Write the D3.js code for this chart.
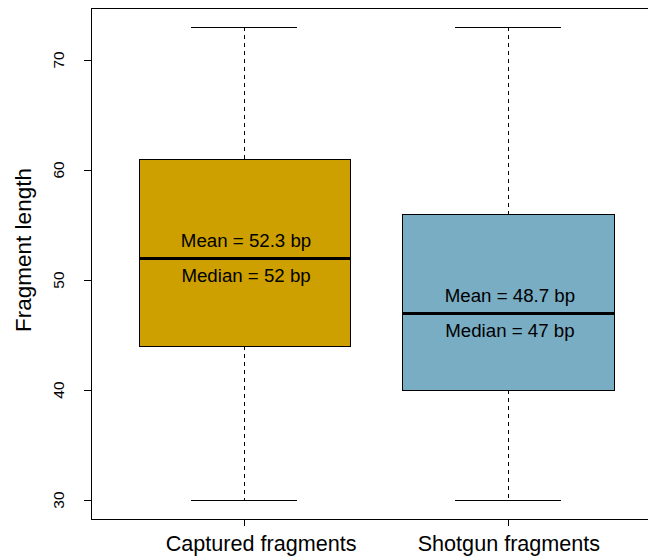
<!DOCTYPE html>
<html>
<head>
<meta charset="utf-8">
<script src="https://cdn.jsdelivr.net/npm/d3@7"></script>
<style>
  html, body { margin: 0; padding: 0; background: #fff; }
  svg { display: block; font-family: "Liberation Sans", Arial, Helvetica, sans-serif; }
</style>
</head>
<body>
<svg id="chart" width="648" height="560"></svg>
<script>
// Fragment length summary per library type
const categories = ["Captured fragments", "Shotgun fragments"];
const whiskerLow  = [30, 30];
const q1          = [44, 40];
const medians     = [52, 47];
const q3          = [61, 56];
const whiskerHigh = [73, 73];
const means       = [52.3, 48.7];
const fills       = ["#CDA000", "#79ADC4"];
const yTicks      = [30, 40, 50, 60, 70];
const yLabel      = "Fragment length";

(function drawChart() {
  const svg = d3.select("#chart");

  // Plot region (frame runs past the right edge of the canvas)
  const plotLeft = 91, plotRight = 661, plotTop = 8, plotBottom = 519;

  // Boxplot-style axis ranges: groups at 1..n with 4% padding on both axes
  const xLo = 0.5, xHi = categories.length + 0.5;
  const xPad = (xHi - xLo) * 0.04;
  const x = d3.scaleLinear().domain([xLo - xPad, xHi + xPad]).range([plotLeft, plotRight]);

  const yMin = d3.min(whiskerLow), yMax = d3.max(whiskerHigh);
  const yPad = (yMax - yMin) * 0.04;
  const y = d3.scaleLinear().domain([yMin - yPad, yMax + yPad]).range([plotBottom, plotTop]);

  const px = v => Math.round(v) + 0.5;
  const boxHalf = 0.4, capHalf = 0.2;

  const data = categories.map((c, i) => ({
    cat: c, pos: i + 1, lo: whiskerLow[i], q1: q1[i], med: medians[i],
    q3: q3[i], hi: whiskerHigh[i], mean: means[i], fill: fills[i]
  }));

  const g = svg.append("g");

  data.forEach(d => {
    const cx = px(x(d.pos));
    // dashed whiskers
    [[d.hi, d.q3], [d.q1, d.lo]].forEach(([a, b]) => {
      g.append("line")
        .attr("x1", cx).attr("x2", cx)
        .attr("y1", Math.round(y(a))).attr("y2", Math.round(y(b)))
        .attr("stroke", "#000").attr("stroke-width", 1)
        .attr("stroke-dasharray", "4,4");
    });
    // whisker caps
    [d.hi, d.lo].forEach(v => {
      g.append("line")
        .attr("x1", Math.round(x(d.pos - capHalf))).attr("x2", Math.round(x(d.pos + capHalf)))
        .attr("y1", px(y(v))).attr("y2", px(y(v)))
        .attr("stroke", "#000").attr("stroke-width", 1);
    });
    // box
    const bx0 = px(x(d.pos - boxHalf)), bx1 = px(x(d.pos + boxHalf));
    const by0 = px(y(d.q3)), by1 = px(y(d.q1));
    g.append("rect")
      .attr("x", bx0).attr("y", by0)
      .attr("width", bx1 - bx0).attr("height", by1 - by0)
      .attr("fill", d.fill).attr("stroke", "#000").attr("stroke-width", 1);
    // median line
    const my = px(y(d.med));
    g.append("line")
      .attr("x1", bx0).attr("x2", bx1)
      .attr("y1", my).attr("y2", my)
      .attr("stroke", "#000").attr("stroke-width", 3);
    // annotations around the median line
    g.append("text")
      .attr("x", x(d.pos) + 2).attr("y", y(d.med) - 11)
      .attr("text-anchor", "middle").attr("font-size", "18.7px").attr("fill", "#000")
      .text(`Mean = ${d.mean} bp`);
    g.append("text")
      .attr("x", x(d.pos) + 2).attr("y", y(d.med) + 24)
      .attr("text-anchor", "middle").attr("font-size", "18.7px").attr("fill", "#000")
      .text(`Median = ${d.med} bp`);
  });

  // frame
  svg.append("rect")
    .attr("x", plotLeft + 0.5).attr("y", plotTop + 0.5)
    .attr("width", plotRight - plotLeft).attr("height", plotBottom - plotTop)
    .attr("fill", "none").attr("stroke", "#000").attr("stroke-width", 1);

  // y axis ticks and rotated labels
  const yAxis = svg.append("g");
  yTicks.forEach(t => {
    const ty = px(y(t));
    yAxis.append("line")
      .attr("x1", plotLeft - 7).attr("x2", plotLeft)
      .attr("y1", ty).attr("y2", ty)
      .attr("stroke", "#000").attr("stroke-width", 1);
    yAxis.append("text")
      .attr("transform", `translate(63.5,${y(t)}) rotate(-90)`)
      .attr("text-anchor", "middle").attr("font-size", "15.5px").attr("fill", "#000")
      .text(t);
  });

  // x axis ticks and category labels
  const xAxis = svg.append("g");
  data.forEach((d, i) => {
    const tx = px(x(d.pos));
    xAxis.append("line")
      .attr("x1", tx).attr("x2", tx)
      .attr("y1", plotBottom).attr("y2", plotBottom + 7)
      .attr("stroke", "#000").attr("stroke-width", 1);
    xAxis.append("text")
      .attr("x", x(d.pos) + (i === 0 ? 17 : 1)).attr("y", 551)
      .attr("text-anchor", "middle").attr("font-size", "21.6px").attr("fill", "#000")
      .text(d.cat);
  });

  // y axis title
  svg.append("text")
    .attr("transform", `translate(31,250) rotate(-90)`)
    .attr("text-anchor", "middle").attr("font-size", "22.5px").attr("fill", "#000")
    .text(yLabel);
})();
</script>
</body>
</html>
